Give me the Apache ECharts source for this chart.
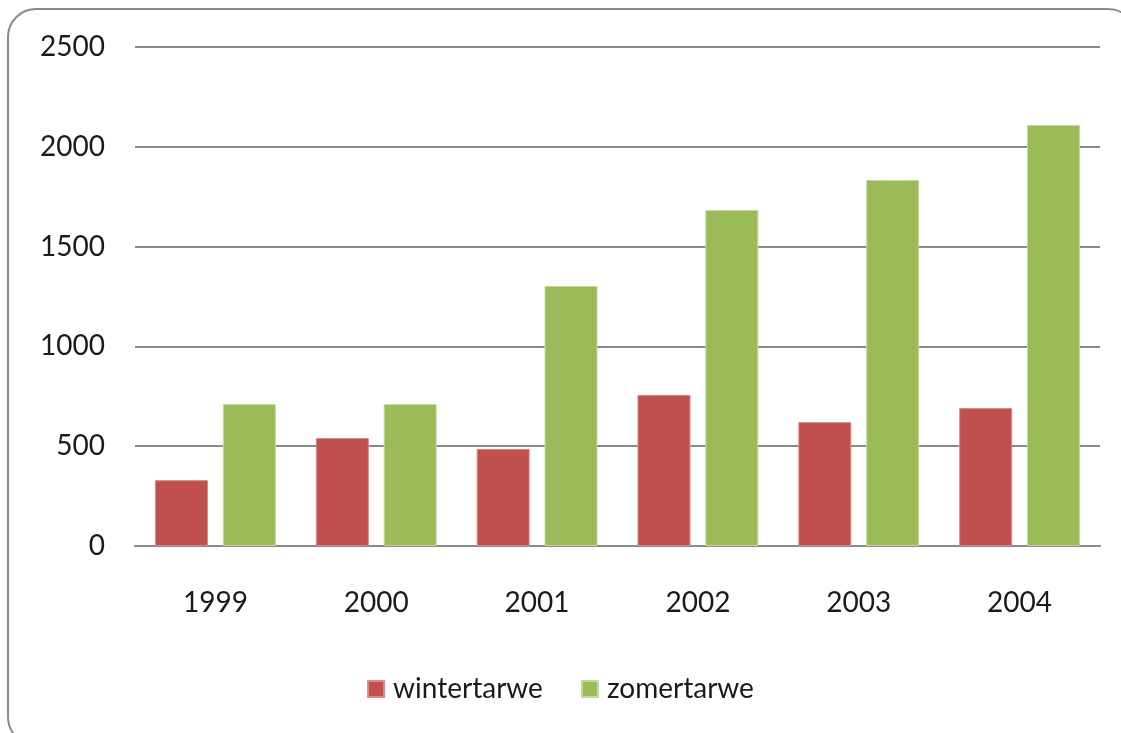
<!DOCTYPE html>
<html>
<head>
<meta charset="utf-8">
<script src="https://cdn.jsdelivr.net/npm/echarts@6/dist/echarts.min.js"></script>
<style>
  html, body { margin: 0; padding: 0; background: #fff; }
  #main { width: 1121px; height: 733px; }
</style>
</head>
<body>
<div id="main"></div>
<script>
var years = ['1999', '2000', '2001', '2002', '2003', '2004'];
var wintertarwe = [330, 541, 486, 757, 621, 691];
var zomertarwe = [711, 711, 1303, 1683, 1834, 2109];
var yTicks = { min: 0, max: 2500, interval: 500 };

var myChart = echarts.init(document.getElementById('main'));
var fontFam = 'Lato, "Open Sans", sans-serif';

var option = {
    animation: false,
    color: ['#C0504D', '#9BBB59'],
    graphic: [
        {
            type: 'rect',
            shape: { x: 8, y: 9, width: 1128, height: 736, r: 28 },
            style: { fill: 'none', stroke: '#8a8a8a', lineWidth: 2 },
            silent: true
        }
    ],
    grid: {
        top: 47,
        left: 135,
        right: 21,
        bottom: 187
    },
    legend: {
        bottom: 25,
        left: 'center',
        itemWidth: 16,
        itemHeight: 16,
        itemGap: 38,
        icon: 'rect',
        textStyle: {
            fontFamily: fontFam,
            fontSize: 28,
            color: '#1a1a1a',
            padding: [0, 0, 0, 4]
        },
        data: ['wintertarwe', 'zomertarwe']
    },
    xAxis: {
        type: 'category',
        data: years,
        axisLine: { lineStyle: { color: '#8a8a8a', width: 2 } },
        axisTick: { show: false },
        axisLabel: {
            margin: 43,
            fontFamily: fontFam,
            fontSize: 28,
            color: '#1a1a1a'
        }
    },
    yAxis: {
        type: 'value',
        min: yTicks.min,
        max: yTicks.max,
        interval: yTicks.interval,
        axisLine: { show: false },
        axisTick: { show: false },
        splitLine: { lineStyle: { color: '#8a8a8a', width: 2 } },
        axisLabel: {
            margin: 30,
            fontFamily: fontFam,
            fontSize: 28,
            color: '#1a1a1a',
            formatter: function (v) { return String(v); }
        }
    },
    series: [
        {
            name: 'wintertarwe',
            type: 'bar',
            barWidth: 53,
            barGap: '28%',
            data: wintertarwe,
            itemStyle: { borderColor: '#d98a88', borderWidth: 1 }
        },
        {
            name: 'zomertarwe',
            type: 'bar',
            barWidth: 53,
            barGap: '28%',
            data: zomertarwe,
            itemStyle: { borderColor: '#c3d9a0', borderWidth: 1 }
        }
    ]
};

myChart.setOption(option, true);
</script>
</body>
</html>
